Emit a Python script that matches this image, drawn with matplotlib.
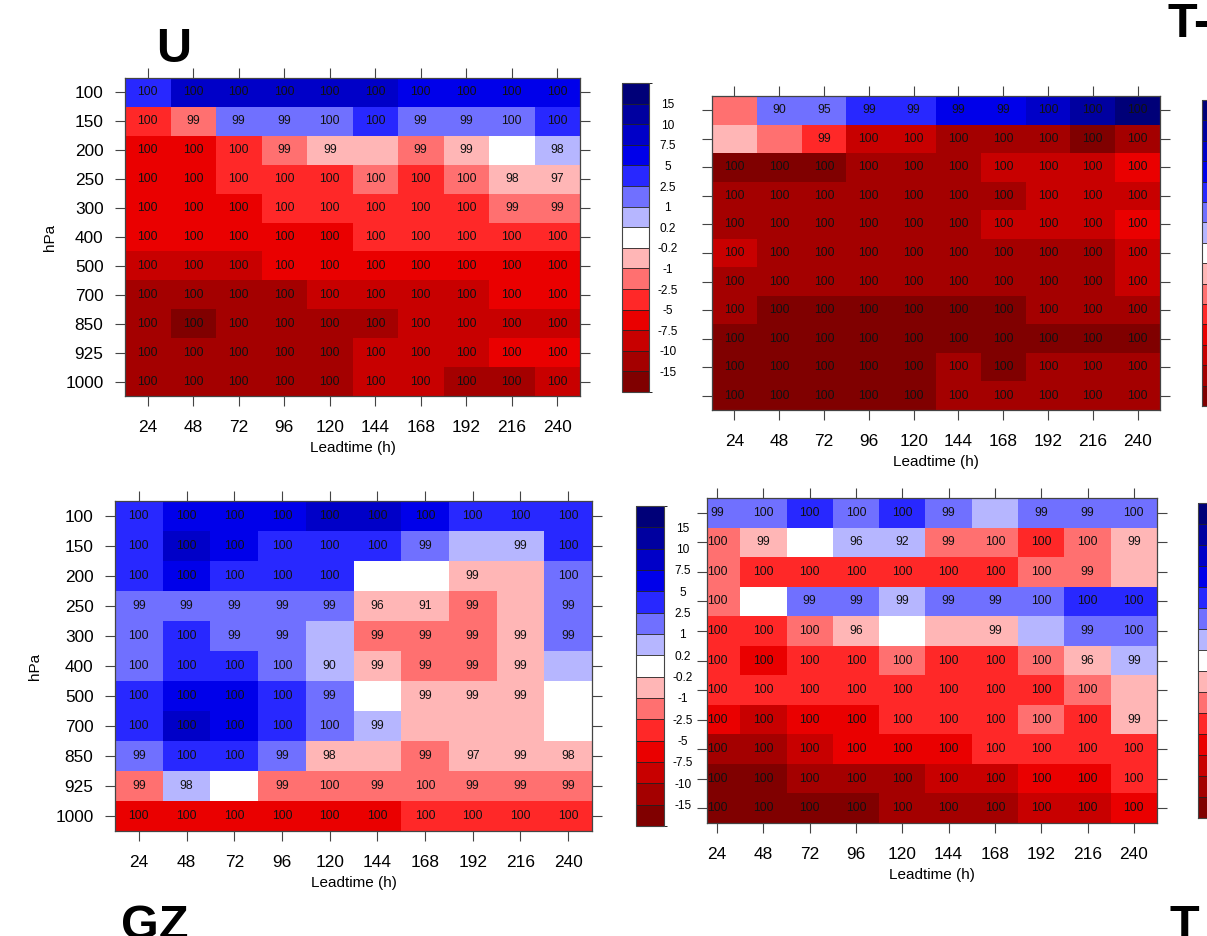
import numpy as np
import matplotlib.pyplot as plt
from matplotlib.colors import ListedColormap, BoundaryNorm
from matplotlib.cm import ScalarMappable

plt.rcParams['font.family'] = ['Liberation Sans', 'DejaVu Sans']

W, H = 1207, 936

leadtime = [24, 48, 72, 96, 120, 144, 168, 192, 216, 240]
plevels = [100, 150, 200, 250, 300, 400, 500, 700, 850, 925, 1000]

bounds = [-20, -15, -10, -7.5, -5, -2.5, -1, -0.2, 0.2, 1, 2.5, 5, 7.5, 10, 15, 20]
bar_labels = ["-15", "-10", "-7.5", "-5", "-2.5", "-1", "-0.2", "0.2", "1", "2.5", "5", "7.5", "10", "15"]
bar_colors = ["#800000", "#a40000", "#c80000", "#ea0000", "#ff2828", "#ff7070", "#ffb6b6", "#ffffff",
              "#b6b6ff", "#7070ff", "#2828ff", "#0000ea", "#0000c8", "#0000a0", "#000078"]

# U differences (estimated from colour bins) and significance (%)
u_diff = [
    [3.5, 8.5, 8.5, 8.5, 8.5, 8.5, 6, 6, 6, 6],
    [-3.5, -1.5, 1.5, 1.5, 1.5, 3.5, 1.5, 1.5, 1.5, 3.5],
    [-6, -6, -3.5, -1.5, -0.5, -0.5, -1.5, -0.5, 0, 0.5],
    [-6, -6, -3.5, -3.5, -3.5, -1.5, -3.5, -1.5, -0.5, -0.5],
    [-6, -6, -6, -3.5, -3.5, -3.5, -3.5, -3.5, -1.5, -1.5],
    [-6, -6, -6, -6, -6, -3.5, -3.5, -3.5, -3.5, -3.5],
    [-8.5, -8.5, -8.5, -6, -6, -6, -6, -6, -6, -6],
    [-12, -12, -12, -12, -8.5, -8.5, -8.5, -8.5, -6, -6],
    [-12, -18, -12, -12, -12, -12, -8.5, -8.5, -8.5, -8.5],
    [-12, -12, -12, -12, -12, -8.5, -8.5, -8.5, -6, -6],
    [-12, -12, -12, -12, -12, -8.5, -8.5, -12, -12, -8.5],
]
u_sig = [
    [100, 100, 100, 100, 100, 100, 100, 100, 100, 100],
    [100, 99, 99, 99, 100, 100, 99, 99, 100, 100],
    [100, 100, 100, 99, 99, None, 99, 99, None, 98],
    [100, 100, 100, 100, 100, 100, 100, 100, 98, 97],
    [100, 100, 100, 100, 100, 100, 100, 100, 99, 99],
    [100, 100, 100, 100, 100, 100, 100, 100, 100, 100],
    [100, 100, 100, 100, 100, 100, 100, 100, 100, 100],
    [100, 100, 100, 100, 100, 100, 100, 100, 100, 100],
    [100, 100, 100, 100, 100, 100, 100, 100, 100, 100],
    [100, 100, 100, 100, 100, 100, 100, 100, 100, 100],
    [100, 100, 100, 100, 100, 100, 100, 100, 100, 100],
]

# T- panel (top right)
tm_diff = [
    [-1.5, 1.5, 1.5, 3.5, 3.5, 6, 6, 8.5, 12, 18],
    [-0.5, -1.5, -3.5, -8.5, -8.5, -12, -12, -12, -18, -12],
    [-18, -18, -18, -12, -12, -12, -8.5, -8.5, -8.5, -6],
    [-12, -12, -12, -12, -12, -12, -12, -8.5, -8.5, -8.5],
    [-12, -12, -12, -12, -12, -12, -8.5, -8.5, -8.5, -6],
    [-8.5, -12, -12, -12, -12, -12, -12, -12, -12, -8.5],
    [-12, -12, -12, -12, -12, -12, -12, -12, -12, -8.5],
    [-12, -18, -18, -18, -18, -18, -18, -12, -12, -12],
    [-18, -18, -18, -18, -18, -18, -18, -18, -18, -18],
    [-18, -18, -18, -18, -18, -12, -18, -12, -12, -12],
    [-18, -18, -18, -18, -18, -12, -12, -12, -12, -12],
]
tm_sig = [
    [None, 90, 95, 99, 99, 99, 99, 100, 100, 100],
    [None, None, 99, 100, 100, 100, 100, 100, 100, 100],
    [100, 100, 100, 100, 100, 100, 100, 100, 100, 100],
    [100, 100, 100, 100, 100, 100, 100, 100, 100, 100],
    [100, 100, 100, 100, 100, 100, 100, 100, 100, 100],
    [100, 100, 100, 100, 100, 100, 100, 100, 100, 100],
    [100, 100, 100, 100, 100, 100, 100, 100, 100, 100],
    [100, 100, 100, 100, 100, 100, 100, 100, 100, 100],
    [100, 100, 100, 100, 100, 100, 100, 100, 100, 100],
    [100, 100, 100, 100, 100, 100, 100, 100, 100, 100],
    [100, 100, 100, 100, 100, 100, 100, 100, 100, 100],
]

# GZ panel (bottom left)
gz_diff = [
    [3.5, 6, 6, 6, 8.5, 8.5, 6, 3.5, 3.5, 3.5],
    [3.5, 8.5, 6, 3.5, 3.5, 3.5, 1.5, 0.5, 0.5, 3.5],
    [3.5, 6, 3.5, 3.5, 3.5, 0, 0, -0.5, -0.5, 1.5],
    [1.5, 1.5, 1.5, 1.5, 1.5, -0.5, -0.5, -1.5, -0.5, 1.5],
    [1.5, 3.5, 1.5, 1.5, 0.5, -1.5, -1.5, -1.5, -0.5, 1.5],
    [1.5, 3.5, 3.5, 1.5, 0.5, -0.5, -1.5, -1.5, -0.5, 0.5],
    [3.5, 6, 6, 3.5, 1.5, 0, -0.5, -0.5, -0.5, 0],
    [3.5, 8.5, 6, 3.5, 1.5, 0.5, -0.5, -0.5, -0.5, 0],
    [1.5, 3.5, 3.5, 1.5, -0.5, -0.5, -1.5, -0.5, -0.5, -0.5],
    [-1.5, 0.5, 0, -1.5, -1.5, -1.5, -1.5, -1.5, -1.5, -1.5],
    [-6, -6, -6, -6, -6, -6, -3.5, -3.5, -3.5, -3.5],
]
gz_sig = [
    [100, 100, 100, 100, 100, 100, 100, 100, 100, 100],
    [100, 100, 100, 100, 100, 100, 99, None, 99, 100],
    [100, 100, 100, 100, 100, None, None, 99, None, 100],
    [99, 99, 99, 99, 99, 96, 91, 99, None, 99],
    [100, 100, 99, 99, None, 99, 99, 99, 99, 99],
    [100, 100, 100, 100, 90, 99, 99, 99, 99, None],
    [100, 100, 100, 100, 99, None, 99, 99, 99, None],
    [100, 100, 100, 100, 100, 99, None, None, None, None],
    [99, 100, 100, 99, 98, None, 99, 97, 99, 98],
    [99, 98, None, 99, 100, 99, 100, 99, 99, 99],
    [100, 100, 100, 100, 100, 100, 100, 100, 100, 100],
]

# T panel (bottom right)
t_diff = [
    [1.5, 1.5, 3.5, 1.5, 3.5, 1.5, 0.5, 1.5, 1.5, 1.5],
    [-1.5, -0.5, 0, 0.5, 0.5, -1.5, -1.5, -3.5, -1.5, -0.5],
    [-1.5, -3.5, -3.5, -3.5, -3.5, -3.5, -3.5, -1.5, -1.5, -0.5],
    [-1.5, 0, 1.5, 1.5, 0.5, 1.5, 1.5, 1.5, 3.5, 3.5],
    [-3.5, -3.5, -1.5, -0.5, 0, -0.5, -0.5, 0.5, 1.5, 1.5],
    [-3.5, -6, -3.5, -3.5, -1.5, -3.5, -3.5, -1.5, -0.5, 0.5],
    [-3.5, -3.5, -3.5, -3.5, -3.5, -3.5, -3.5, -3.5, -1.5, -0.5],
    [-6, -8.5, -6, -6, -3.5, -3.5, -3.5, -1.5, -3.5, -0.5],
    [-12, -12, -8.5, -6, -6, -6, -3.5, -3.5, -3.5, -3.5],
    [-18, -18, -12, -12, -12, -8.5, -8.5, -6, -6, -3.5],
    [-18, -18, -18, -18, -12, -12, -12, -8.5, -8.5, -6],
]
t_sig = [
    [99, 100, 100, 100, 100, 99, None, 99, 99, 100],
    [100, 99, None, 96, 92, 99, 100, 100, 100, 99],
    [100, 100, 100, 100, 100, 100, 100, 100, 99, None],
    [100, None, 99, 99, 99, 99, 99, 100, 100, 100],
    [100, 100, 100, 96, None, None, 99, None, 99, 100],
    [100, 100, 100, 100, 100, 100, 100, 100, 96, 99],
    [100, 100, 100, 100, 100, 100, 100, 100, 100, None],
    [100, 100, 100, 100, 100, 100, 100, 100, 100, 99],
    [100, 100, 100, 100, 100, 100, 100, 100, 100, 100],
    [100, 100, 100, 100, 100, 100, 100, 100, 100, 100],
    [100, 100, 100, 100, 100, 100, 100, 100, 100, 100],
]

cmap = ListedColormap(bar_colors)
norm = BoundaryNorm(bounds, cmap.N)
EDGE = "#444444"


def px(l, t, r, b):
    # pixel box -> figure fraction rect
    return [l / W, 1 - b / H, (r - l) / W, (b - t) / H]


def draw_panel(ax, diff, sig, xlim, show_y=True):
    xe = np.arange(12, 253, 24)
    ye = np.arange(len(plevels) + 1) - 0.5
    ax.pcolormesh(xe, ye, np.array(diff, dtype=float), cmap=cmap, norm=norm,
                  edgecolors="none", antialiased=False)
    for i in range(len(plevels)):
        for j in range(len(leadtime)):
            if sig[i][j] is not None:
                ax.text(leadtime[j], i, str(sig[i][j]), ha="center", va="center",
                        fontsize=8.7, color="#111111", clip_on=True)
    ax.set_xlim(*xlim)
    ax.set_ylim(len(plevels) - 0.5, -0.5)
    ax.set_xticks(leadtime)
    ax.set_yticks(range(len(plevels)))
    ax.set_yticklabels(plevels)
    ax.tick_params(direction="out", length=7, width=0.8, color=EDGE,
                   top=True, right=True, labelsize=12.4)
    ax.tick_params(axis="x", pad=10)
    ax.tick_params(axis="y", pad=8.5)
    if not show_y:
        ax.tick_params(axis="y", labelleft=False)
    for s in ax.spines.values():
        s.set_color(EDGE)
        s.set_linewidth(0.9)
    h = ax.get_position().height * H
    ax.set_xlabel("Leadtime (h)", fontsize=11, va="center")
    ax.xaxis.set_label_coords(0.5, -52 / h)


def draw_bar(cax, labels=True):
    cb = fig.colorbar(ScalarMappable(norm=norm, cmap=cmap), cax=cax, boundaries=bounds,
                      ticks=bounds[1:-1], spacing="uniform", drawedges=True)
    cb.ax.set_yticklabels(bar_labels, ha="center")
    cb.ax.tick_params(length=0, pad=13.5, labelsize=8.6)
    if not labels:
        # these bars run off the right edge, their labels are not visible
        cb.ax.tick_params(labelright=False)
    cb.dividers.set_color("#222222")
    cb.dividers.set_linewidth(0.6)
    cb.outline.set_edgecolor(EDGE)
    cb.outline.set_linewidth(0.8)
    return cb


fig = plt.figure(figsize=(W / 100, H / 100), dpi=100)

ax_u = fig.add_axes(px(125, 78, 580, 396))
draw_panel(ax_u, u_diff, u_sig, (12, 252))
ax_u.set_ylabel("hPa", fontsize=11, va="center")
ax_u.yaxis.set_label_coords((50 - 125) / 455, 0.5)
draw_bar(fig.add_axes(px(622, 83, 649, 392)))

ax_tm = fig.add_axes(px(712, 96, 1160, 410))
draw_panel(ax_tm, tm_diff, tm_sig, (12, 252), show_y=False)
draw_bar(fig.add_axes(px(1202, 100, 1230, 406)), labels=False)

ax_gz = fig.add_axes(px(115, 501, 592, 831))
draw_panel(ax_gz, gz_diff, gz_sig, (12, 252))
ax_gz.set_ylabel("hPa", fontsize=11, va="center")
ax_gz.yaxis.set_label_coords((35 - 115) / 477, 0.5)
draw_bar(fig.add_axes(px(636, 506, 664, 826)))

ax_t = fig.add_axes(px(707, 498, 1157, 823))
draw_panel(ax_t, t_diff, t_sig, (18.8, 252), show_y=False)
draw_bar(fig.add_axes(px(1198, 503, 1226, 818)), labels=False)

# panel titles (partly cut by the figure edge, as in the source)
fig.text(156 / W, 1 - 62 / H, "U", fontsize=35, fontweight="bold", va="baseline")
fig.text(1167 / W, 1 - 37 / H, "T-", fontsize=35, fontweight="bold", va="baseline")
fig.text(121 / W, 1 - 939 / H, "GZ", fontsize=35, fontweight="bold", va="baseline")
fig.text(1170 / W, 1 - 939 / H, "T", fontsize=35, fontweight="bold", va="baseline")

fig.savefig("out.png", dpi=100)
